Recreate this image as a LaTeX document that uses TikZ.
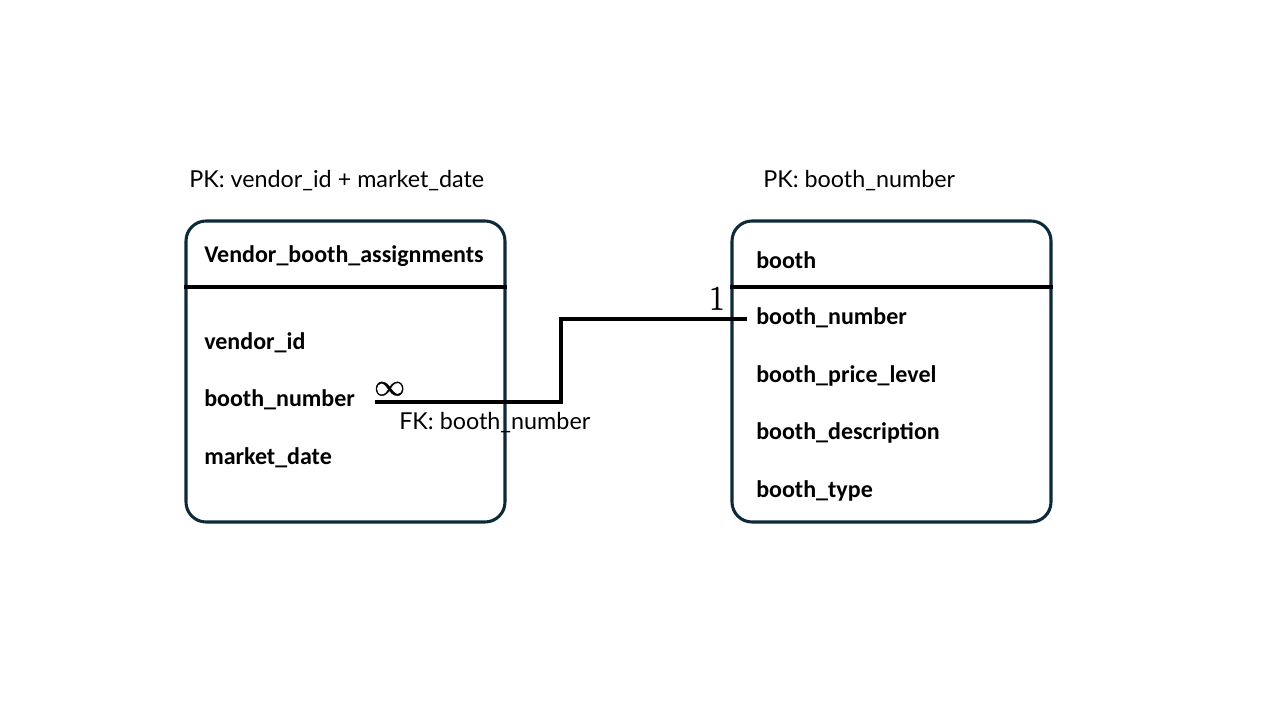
\documentclass[tikz,border=0pt]{standalone}
\usepackage{fontspec}
\setmainfont{Carlito}
\newfontfamily\labelfont{Lato}
\newfontfamily\signfont[FakeBold=1.2]{Latin Modern Roman}
\newfontfamily\signmath[FakeBold=1.2]{Latin Modern Math}
\usetikzlibrary{calc, positioning}
\definecolor{boxline}{HTML}{0E2A38}

\tikzset{
  table/.style = {draw=boxline, line width=2.3pt, rounded corners=15pt,
                  minimum width=319*0.75pt, minimum height=301*0.75pt, inner sep=0pt},
  field/.style = {anchor=west, inner sep=0pt, font=\fontsize{18}{20}\selectfont\bfseries},
  pklabel/.style = {anchor=west, inner sep=0pt, font=\labelfont\fontsize{17.5}{19}\selectfont},
  divider/.style = {line width=2.3pt, black},
  link/.style = {line width=2.3pt, black}
}

\begin{document}
\begin{tikzpicture}[x=0.75pt, y=-0.75pt]
  \useasboundingbox (0,0) rectangle (1280,720);

  % left table
  \node[table] (vba) at (345.5,371.5) {};
  \draw[divider] (vba.west |- 0,287) -- (vba.east |- 0,287);
  \node[field] (vbahead) at (204,256) {Vendor\_booth\_assignments};
  \node[field] (vid) at (204,343) {vendor\_id};
  \node[field] (vbn) at (204,400) {booth\_number};
  \node[field] (mdate) at (204,458) {market\_date};
  \node[pklabel] (vbapk) at (189,181) {PK: vendor\_id + market\_date};

  % right table
  \node[table] (bth) at (891.5,371.5) {};
  \draw[divider] (bth.west |- 0,287) -- (bth.east |- 0,287);
  \node[field] (bthhead) at (756,260) {booth};
  \node[field] (bbn) at (756,318) {booth\_number};
  \node[field] (bprice) at (756,376) {booth\_price\_level};
  \node[field] (bdesc) at (756,433) {booth\_description};
  \node[field] (btype) at (756,491) {booth\_type};
  \node[pklabel] (bthpk) at (763,181) {PK: booth\_number};

  % relationship
  \coordinate (manyend) at (375,402);
  \coordinate (oneend) at (747,319);
  \draw[link] (manyend) -| ($(manyend)!.5!(oneend)$) |- (oneend);
  \node[inner sep=0pt, anchor=south west, font=\signmath\fontsize{23}{25}\selectfont] (many) at (374,396) {∞};
  \node[inner sep=0pt, anchor=south east, font=\signfont\fontsize{26}{28}\selectfont] (one) at (725,310) {1};
  \node[pklabel] (fk) at (399,423) {FK: booth\_number};
\end{tikzpicture}
\end{document}
